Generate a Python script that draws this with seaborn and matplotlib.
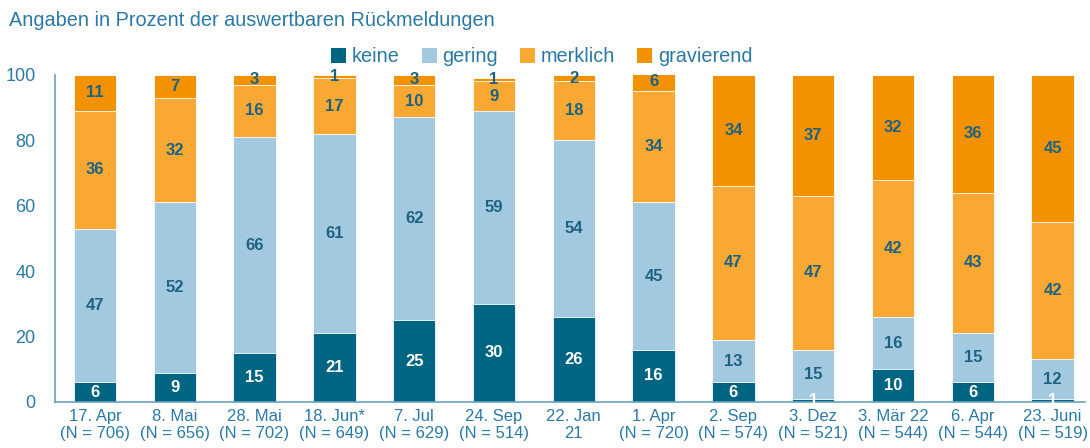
import numpy as np
import pandas as pd
import seaborn as sns
import matplotlib.pyplot as plt
from matplotlib.patches import Patch

# %%

dates = ["17. Apr\n(N = 706)", "8. Mai\n(N = 656)", "28. Mai\n(N = 702)",
         "18. Jun*\n(N = 649)", "7. Jul\n(N = 629)", "24. Sep\n(N = 514)",
         "22. Jan\n21", "1. Apr\n(N = 720)", "2. Sep\n(N = 574)",
         "3. Dez\n(N = 521)", "3. Mär 22\n(N = 544)", "6. Apr\n(N = 544)",
         "23. Juni\n(N = 519)"]

keine      = [6, 9, 15, 21, 25, 30, 26, 16, 6, 1, 10, 6, 1]
gering     = [47, 52, 66, 61, 62, 59, 54, 45, 13, 15, 16, 15, 12]
merklich   = [36, 32, 16, 17, 10, 9, 18, 34, 47, 47, 42, 43, 42]
gravierend = [11, 7, 3, 1, 3, 1, 2, 6, 34, 37, 32, 36, 45]

series = ["keine", "gering", "merklich", "gravierend"]
colors = ["#006582", "#a3c9e0", "#f9a833", "#f39200"]
label_colors = ["white", "#1d6282", "#1d6282", "#1d6282"]

# %%

sns.set_style("white")
plt.rcParams['font.family'] = ['Liberation Sans', 'DejaVu Sans']

df = pd.DataFrame({"datum": dates, "keine": keine, "gering": gering,
                   "merklich": merklich, "gravierend": gravierend})

fig = plt.figure(figsize=(10.9, 4.48), dpi=100)
ax = fig.add_axes([0.0505, 0.1027, 0.9445, 0.730])

vals = df[series].to_numpy()
cum = np.cumsum(vals, axis=1)

# draw cumulative bars from top down so they overlap into a stack
for i in range(len(series) - 1, -1, -1):
    sns.barplot(x=df["datum"], y=cum[:, i], color=colors[i], width=0.53,
                saturation=1, edgecolor="white", linewidth=0.6, ax=ax)

# value labels in the middle of every segment
for j in range(len(dates)):
    for i in range(len(series)):
        v = vals[j, i]
        mid = cum[j, i] - v / 2
        ax.text(j, mid, str(v), ha="center", va="center", fontsize=12,
                fontweight="bold", color=label_colors[i])

ax.set_xlim(-0.5, 12.4)
ax.set_ylim(0, 100)
ax.set_yticks([0, 20, 40, 60, 80, 100])
ax.set_xlabel("")
ax.set_ylabel("")
ax.tick_params(axis="both", length=0, labelcolor="#2a79a6")
ax.tick_params(axis="x", labelsize=12, pad=5)
ax.tick_params(axis="y", labelsize=13, pad=14)

for s in ["top", "right"]:
    ax.spines[s].set_visible(False)
for s in ["left", "bottom"]:
    ax.spines[s].set_color("#6aa3bf")
    ax.spines[s].set_linewidth(1.2)

handles = [Patch(facecolor=c, edgecolor="none") for c in colors]
fig.legend(handles, series, loc="center", bbox_to_anchor=(0.497, 0.873),
           ncol=4, frameon=False, fontsize=14.3, handlelength=0.75,
           handleheight=0.75, handletextpad=0.3, columnspacing=1.1,
           labelcolor="#2a79a6")

fig.text(0.008, 0.955, "Angaben in Prozent der auswertbaren Rückmeldungen",
         fontsize=14.3, color="#2a79a6", ha="left", va="center")

fig.savefig("out.png", dpi=100)
